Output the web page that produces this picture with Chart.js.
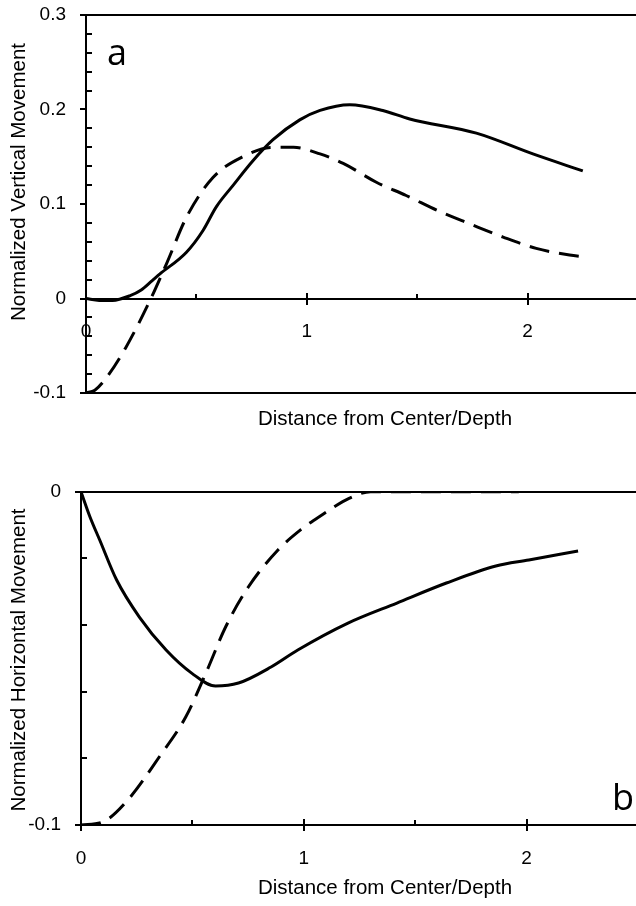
<!DOCTYPE html>
<html>
<head>
<meta charset="utf-8">
<script src="https://cdn.jsdelivr.net/npm/chart.js@4"></script>
<style>
body { margin: 0; background: #fff; width: 636px; height: 906px; overflow: hidden; position: relative; }
.box { position: absolute; left: 0; width: 660px; }
</style>
</head>
<body>
<div class="box" style="top:0;height:440px"><canvas id="vertikal"></canvas></div>
<div class="box" style="top:440px;height:466px"><canvas id="horizontal"></canvas></div>
<script>
// Werte aus dem Bild abgelesen
// a) vertikale Bewegung
var vertSolidX = [0, 0.06, 0.12, 0.2, 0.25, 0.3, 0.335, 0.455, 0.53, 0.59, 0.667, 0.757, 0.847, 0.968, 1.06, 1.195, 1.344, 1.466, 1.768, 2.024, 2.25];
var vertSolidY = [0, -0.002, -0.002, 0.003, 0.009, 0.019, 0.026, 0.049, 0.072, 0.097, 0.12, 0.146, 0.168, 0.189, 0.199, 0.205, 0.199, 0.19, 0.175, 0.153, 0.135];
var vertDashX = [0, 0.04, 0.095, 0.18, 0.29, 0.365, 0.455, 0.575, 0.71, 0.847, 0.94, 1.06, 1.165, 1.315, 1.45, 1.602, 1.738, 1.889, 2.039, 2.19, 2.258];
var vertDashY = [-0.1, -0.097, -0.083, -0.052, -0.002, 0.037, 0.086, 0.128, 0.15, 0.16, 0.16, 0.153, 0.143, 0.123, 0.109, 0.092, 0.079, 0.065, 0.053, 0.046, 0.044];
// b) horizontale Bewegung
var horSolidX = [0, 0.04, 0.084, 0.16, 0.262, 0.382, 0.498, 0.604, 0.707, 0.853, 0.973, 1.196, 1.418, 1.64, 1.862, 2.01, 2.231];
var horSolidY = [0, -0.0075, -0.0145, -0.0265, -0.0376, -0.0475, -0.0545, -0.0583, -0.0574, -0.0526, -0.0475, -0.0395, -0.0334, -0.0274, -0.0223, -0.0205, -0.0178];
var horDashX = [0, 0.1, 0.21, 0.351, 0.47, 0.56, 0.649, 0.751, 0.884, 0.988, 1.047, 1.114, 1.203, 1.3, 1.6, 1.965];
var horDashY = [-0.1, -0.099, -0.0925, -0.0796, -0.0676, -0.0545, -0.0406, -0.0286, -0.0175, -0.0113, -0.0085, -0.0055, -0.002, 0, 0, 0];

var xTicks = [0, 1, 2];
var xTitle = "Distance from Center/Depth";
var yTitleA = "Normalized Vertical Movement";
var yTitleB = "Normalized Horizontal Movement";

function punkte(xs, ys) {
    return xs.map((x, i) => ({ x: x, y: ys[i] }));
}

//Achsen, Rahmen und Striche
var achsen = {
    id: 'achsen',
    beforeDatasetsDraw(chart, args, opts) {
        var ctx = chart.ctx;
        var xs = chart.scales.x, ys = chart.scales.y;
        var area = chart.chartArea;
        var x0 = Math.round(xs.getPixelForValue(0));
        var yAx = Math.round(ys.getPixelForValue(opts.axisAt));
        ctx.save();
        ctx.strokeStyle = '#000';
        ctx.lineWidth = 2;
        ctx.beginPath();
        ctx.moveTo(x0, Math.round(area.top));
        ctx.lineTo(x0, Math.round(area.bottom));
        opts.lines.forEach(v => {
            var p = Math.round(ys.getPixelForValue(v));
            ctx.moveTo(x0, p);
            ctx.lineTo(area.right, p);
        });
        ys.ticks.forEach(t => {
            var p = Math.round(ys.getPixelForValue(t.value));
            var major = Math.abs(Math.round(t.value * 10) - t.value * 10) < 1e-6;
            if (major) {
                ctx.moveTo(x0 - 6, p); ctx.lineTo(x0, p);
            } else {
                ctx.moveTo(x0, p); ctx.lineTo(x0 + 6, p);
            }
        });
        xs.ticks.forEach(t => {
            var p = Math.round(xs.getPixelForValue(t.value));
            if (xTicks.indexOf(t.value) >= 0) {
                ctx.moveTo(p, yAx - 6); ctx.lineTo(p, yAx + 6);
            } else {
                ctx.moveTo(p, yAx); ctx.lineTo(p, yAx - 5);
            }
        });
        ctx.stroke();
        ctx.restore();
    }
};

//Titel und Buchstaben
var texte = {
    id: 'texte',
    afterDraw(chart, args, opts) {
        var ctx = chart.ctx;
        ctx.save();
        ctx.fillStyle = '#000';
        ctx.textBaseline = 'alphabetic';
        opts.items.forEach(t => {
            ctx.save();
            ctx.font = t.font;
            ctx.textAlign = t.align;
            ctx.translate(t.x, t.y);
            if (t.rot) ctx.rotate(t.rot);
            ctx.fillText(t.text, 0, 0);
            ctx.restore();
        });
        ctx.restore();
    }
};

var tickFont = { family: 'Liberation Sans', size: 19 };
var titleFont = '20.5px "Liberation Sans"';
var letterFont = '36px "Open Sans"';

function linie(data, dashed) {
    return {
        data: data,
        borderColor: '#000',
        borderWidth: 3,
        borderDash: dashed ? [20, 10] : [],
        pointRadius: 0,
        fill: false,
        cubicInterpolationMode: 'monotone'
    };
}

function yLabel(v) {
    var r = Math.round(v * 100);
    return r % 10 === 0 ? String(r / 100) : '';
}

function xLabel(v) {
    return xTicks.indexOf(v) >= 0 ? String(v) : '';
}

// Breite der y-Achse festlegen, keine automatische Polsterung
function yFit(w) {
    return s => { s.width = w; s.paddingTop = 0; s.paddingBottom = 0; };
}

new Chart(document.getElementById('vertikal'), {
    type: 'line',
    data: {
        datasets: [linie(punkte(vertSolidX, vertSolidY), false), linie(punkte(vertDashX, vertDashY), true)]
    },
    options: {
        responsive: true,
        maintainAspectRatio: false,
        animation: false,
        layout: { padding: { left: 0, top: 15, right: 21.5, bottom: 47 } },
        scales: {
            x: {
                type: 'linear', min: 0, max: 2.5,
                position: { y: 0 },
                grid: { display: false, drawTicks: false },
                border: { display: false },
                ticks: { stepSize: 0.5, autoSkip: false, maxRotation: 0, padding: 22, color: '#000', font: tickFont, callback: xLabel }
            },
            y: {
                min: -0.1, max: 0.3,
                grid: { display: false, drawTicks: false },
                border: { display: false },
                ticks: { stepSize: 0.02, autoSkip: false, padding: 20, color: '#000', font: tickFont, callback: yLabel },
                afterFit: yFit(86)
            }
        },
        plugins: {
            legend: { display: false },
            tooltip: { enabled: false },
            achsen: { axisAt: 0, lines: [0.3, 0, -0.1] },
            texte: {
                items: [
                    { text: yTitleA, x: 25, y: 182, rot: -Math.PI / 2, align: 'center', font: titleFont },
                    { text: xTitle, x: 385, y: 425, align: 'center', font: titleFont },
                    { text: 'a', x: 107, y: 65, align: 'left', font: letterFont }
                ]
            }
        }
    },
    plugins: [achsen, texte]
});

new Chart(document.getElementById('horizontal'), {
    type: 'line',
    data: {
        datasets: [linie(punkte(horSolidX, horSolidY), false), linie(punkte(horDashX, horDashY), true)]
    },
    options: {
        responsive: true,
        maintainAspectRatio: false,
        animation: false,
        layout: { padding: { left: 0, top: 51.7, right: 16.5, bottom: 0 } },
        scales: {
            x: {
                type: 'linear', min: 0, max: 2.5,
                position: 'bottom',
                grid: { display: false, drawTicks: false },
                border: { display: false },
                ticks: { stepSize: 0.5, autoSkip: false, maxRotation: 0, padding: 22, color: '#000', font: tickFont, callback: xLabel },
                afterFit: s => { s.height = 81; }
            },
            y: {
                min: -0.1, max: 0,
                grid: { display: false, drawTicks: false },
                border: { display: false },
                ticks: { stepSize: 0.02, autoSkip: false, padding: 20, color: '#000', font: tickFont, callback: yLabel },
                afterFit: yFit(81)
            }
        },
        plugins: {
            legend: { display: false },
            tooltip: { enabled: false },
            achsen: { axisAt: -0.1, lines: [0, -0.1] },
            texte: {
                items: [
                    { text: yTitleB, x: 25, y: 220, rot: -Math.PI / 2, align: 'center', font: titleFont },
                    { text: xTitle, x: 385, y: 454, align: 'center', font: titleFont },
                    { text: 'b', x: 612, y: 370, align: 'left', font: letterFont }
                ]
            }
        }
    },
    plugins: [achsen, texte]
});
</script>
</body>
</html>
